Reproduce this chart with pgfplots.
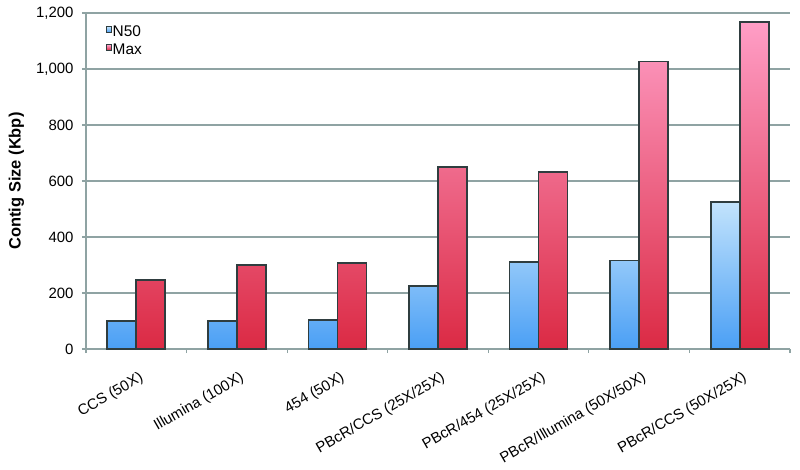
\documentclass[border=0pt]{standalone}
\usepackage{fontspec}
\setmainfont{Liberation Sans}
\usepackage{pgfplots}
\pgfplotsset{compat=1.18}
\definecolor{gridc}{HTML}{8FA3A3}
\definecolor{barc}{HTML}{2F3D3F}
\definecolor{blueT}{HTML}{C2E3FC}
\definecolor{blueB}{HTML}{4A9FF5}
\definecolor{pinkT}{HTML}{FF9EC6}
\definecolor{pinkB}{HTML}{DB2A44}
\begin{document}
\begin{tikzpicture}
\path[use as bounding box] (-86bp,-121bp) rectangle (714bp,349bp);
\begin{axis}[
  at={(0,0)}, anchor=south west,
  scale only axis, width=704bp, height=336bp,
  xmin=-0.5, xmax=6.5, ymin=0, ymax=1200,
  ybar=0pt, bar width=29bp,
  axis x line*=bottom, axis y line*=left,
  axis line style={gridc, line width=1.3bp},
  ymajorgrids, grid style={gridc, line width=1.3bp},
  tick align=outside,
  tick style={gridc, line width=1.2bp},
  major tick length=4bp,
  ytick={0,200,...,1200},
  /pgf/number format/assume math mode=true,
  /pgf/number format/1000 sep={,},
  yticklabel style={font=\fontsize{15}{17}\selectfont, xshift=-5bp},
  xtick={-0.5,0.5,...,6.5},
  xticklabels={},
  extra x ticks={0,1,2,3,4,5,6},
  extra x tick labels={CCS (50X), Illumina (100X), 454 (50X), PBcR/CCS (25X/25X), PBcR/454 (25X/25X), PBcR/Illumina (50X/50X), PBcR/CCS (50X/25X)},
  extra x tick style={major tick length=0pt},
  xticklabel style={font=\fontsize{15}{17}\selectfont, rotate=30, anchor=north east, inner sep=1bp, yshift=-19bp, xshift=-8bp},
  ylabel={Contig Size (Kbp)},
  ylabel style={font=\fontsize{16.5}{18}\selectfont\bfseries, at={(axis description cs:-0.099,0.5)}, anchor=center},
  legend style={at={(0.028,0.965)}, anchor=north west, draw=none, fill=none,
    font=\fontsize{15.5}{17}\selectfont, row sep=5bp, inner sep=0pt,
    nodes={inner sep=0.5bp}},
  legend image code/.code={\draw[#1, draw=barc, line width=0.8bp] (1bp,-0.5bp) rectangle (6.5bp,5bp);},
  legend cell align=left,
]
\addplot[draw=barc, line width=1.8bp, shading=axis, top color=blueT, bottom color=blueB]
  coordinates {(0,100) (1,101) (2,105) (3,225) (4,311) (5,316) (6,525)};
\addplot[draw=barc, line width=1.8bp, shading=axis, top color=pinkT, bottom color=pinkB]
  coordinates {(0,247) (1,300) (2,306) (3,649) (4,631) (5,1027) (6,1167)};
\legend{N50, Max}
\end{axis}
\end{tikzpicture}
\end{document}
